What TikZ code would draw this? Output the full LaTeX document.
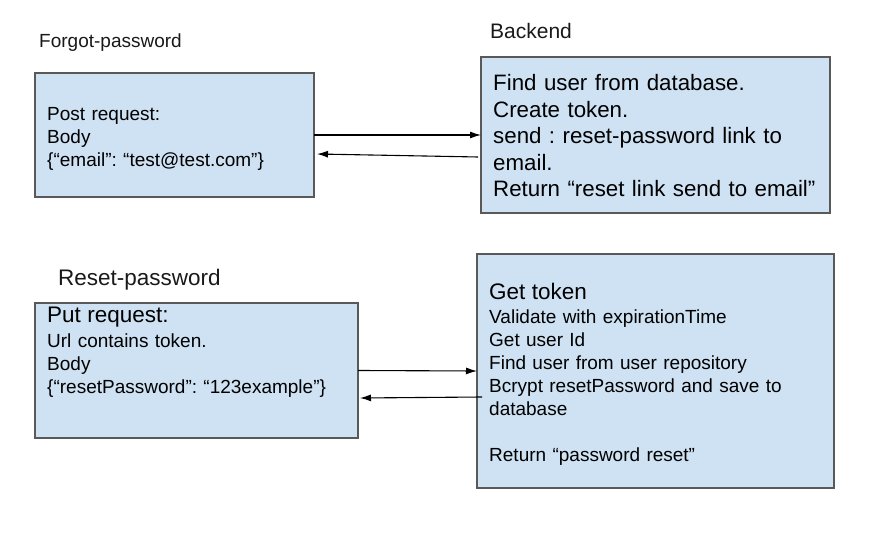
\documentclass[tikz,border=0pt]{standalone}
\usepackage{fontspec}
\setmainfont{Liberation Sans}
\usetikzlibrary{arrows.meta}
\usepackage{xcolor}
\definecolor{boxblue}{HTML}{CFE2F3}
\definecolor{boxgray}{HTML}{595959}
\frenchspacing
\tikzset{
  >=latex, % default arrow head
  box/.style={rectangle,draw=boxgray,line width=1.3pt,fill=boxblue,anchor=north west,
    inner sep=0,outer sep=0},
  box text/.style={anchor=west,inner sep=0,align=left,text width=360,text=black},
  small text/.style={font=\fontsize{19}{23}\selectfont},
  big text/.style={font=\fontsize{22.3}{26.5}\selectfont},
  heading/.style={anchor=base west,inner sep=0,text=black!90},
  connect arrow/.style={-{Latex[length=11,width=7]},line width=1.1pt,black}
}
\newcommand{\bigline}[1]{{\fontsize{22.5}{26.5}\selectfont #1\par}}

\begin{document}
\begin{tikzpicture}[x=1pt,y=-1pt]
    \useasboundingbox (0,0) rectangle (873,537);

    % headings
    \node[heading,small text] (fph) at (39,48) {Forgot-password};
    \node[heading,font=\fontsize{21}{25}\selectfont] (beh) at (490,39) {Backend};
    \node[heading,font=\fontsize{22.5}{26.5}\selectfont] (rph) at (58,286) {Reset-password};

    % boxes
    \node[box,minimum width=279,minimum height=124] (fp) at (35,73) {};
    \node[box,minimum width=349,minimum height=156] (be) at (481,57) {};
    \node[box,minimum width=323,minimum height=135] (rp) at (35,303) {};
    \node[box,minimum width=357,minimum height=234] (gt) at (477,254) {};

    % box texts
    \node[box text,small text] (fptext) at ([xshift=12pt,yshift=-3.5pt]fp.west)
        {Post request:\\Body\\\{“email”: “test@test.com”\}};
    \node[box text,big text] (betext) at ([xshift=12pt,yshift=-1pt]be.west)
        {Find user from database.\\Create token.\\send : reset-password link to\\email.\\Return “reset link send to email”};
    \node[box text,anchor=north west,small text] (rptext) at (47,307)
        {\bigline{Put request:}\vspace{1.5pt}Url contains token.\\Body\\\{“resetPassword”: “123example”\}};
    \node[box text,small text] (gttext) at ([xshift=12pt,yshift=-3.5pt]gt.west)
        {\bigline{Get token}\vspace{1pt}Validate with expirationTime\\Get user Id\\Find user from user repository\\Bcrypt resetPassword and save to\\database\\[23pt]Return “password reset”};

    % requests and replies
    \draw[connect arrow] (fp.east) -- (be.west);
    \draw[connect arrow] ([xshift=-3pt,yshift=-22pt]be.west) -- ([xshift=3pt,yshift=-19pt]fp.east);
    \draw[connect arrow] (rp.east) -- (gt.west);
    \draw[connect arrow] ([xshift=5pt,yshift=-26pt]gt.west) -- ([xshift=2pt,yshift=-27.5pt]rp.east);
\end{tikzpicture}
\end{document}
